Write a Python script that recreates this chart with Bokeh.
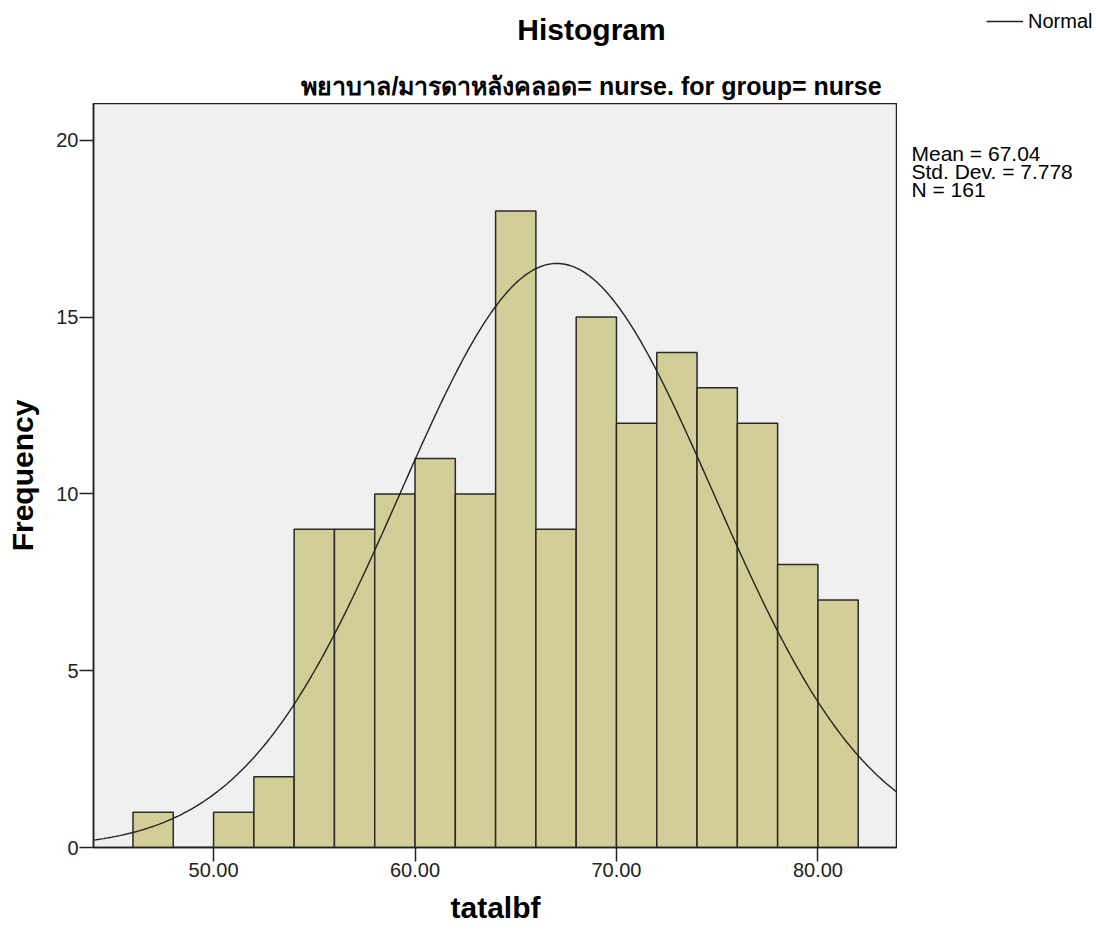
import numpy as np
from bokeh.plotting import figure
from bokeh.layouts import column, row
from bokeh.models import Label, Legend, LegendItem, FixedTicker, NumeralTickFormatter, ColumnDataSource, Range1d
from bokeh.embed import file_html
from bokeh.resources import INLINE

# ---- data ----
bin_left = [46, 48, 50, 52, 54, 56, 58, 60, 62, 64, 66, 68, 70, 72, 74, 76, 78, 80]
bin_width = 2
counts = [1, 0, 1, 2, 9, 9, 10, 11, 10, 18, 9, 15, 12, 14, 13, 12, 8, 7]
mean_val = 67.04
std_val = 7.778
n_val = 161
x_ticks = [50, 60, 70, 80]
y_ticks = [0, 5, 10, 15, 20]
title_text = "Histogram"
subtitle_text = "พยาบาล/มารดาหลังคลอด= nurse. for group= nurse"
x_label = "tatalbf"
y_label = "Frequency"
legend_label = "Normal"

FONT = "Liberation Sans"
X0, X1 = 44.04, 83.95
Y0, Y1 = 0, 21.04

TOTAL_W = 1096
HEAD_H = 103          # space above the plot frame
FL, FW, FH = 93, 804, 744
BOTTOM = 86
MAIN_H = FH + BOTTOM
SIDE_W = TOTAL_W - FL - FW
LINE_COLOR = "#222222"

# ---------------- main plot ----------------
p = figure(frame_width=FW, frame_height=FH, title=None,
           x_range=(X0, X1), y_range=(Y0, Y1),
           min_border_left=FL, min_border_top=0, min_border_right=0, min_border_bottom=BOTTOM,
           output_backend="svg", toolbar_location=None,
           background_fill_color="#f0f0f0", border_fill_color="white")
p.outline_line_color = LINE_COLOR
p.outline_line_width = 1.5
p.grid.visible = False

src = ColumnDataSource(dict(left=bin_left,
                            right=[b + bin_width for b in bin_left],
                            top=counts))
p.quad(left="left", right="right", bottom=0, top="top", source=src,
       fill_color="#d3ce97", line_color="#2a2a2a", line_width=1.5)

# Normal curve from the stated mean/sd/N
xs = np.linspace(X0, X1, 400)
ys = n_val * bin_width * np.exp(-0.5 * ((xs - mean_val) / std_val) ** 2) / (std_val * np.sqrt(2 * np.pi))
p.line(xs, ys, line_color=LINE_COLOR, line_width=1.4)

for ax in (p.xaxis[0], p.yaxis[0]):
    ax.axis_line_color = LINE_COLOR
    ax.axis_line_width = 1.5
    ax.major_tick_line_color = LINE_COLOR
    ax.major_tick_line_width = 1.5
    ax.major_tick_in = 0
    ax.major_tick_out = 14
    ax.minor_tick_line_color = None
    ax.major_label_text_font = FONT
    ax.major_label_text_font_size = "20px"
    ax.major_label_text_color = LINE_COLOR
    ax.axis_label_text_font = FONT
    ax.axis_label_text_font_size = "30px"
    ax.axis_label_text_font_style = "bold"
    ax.axis_label_text_color = "black"

p.xaxis.ticker = FixedTicker(ticks=x_ticks)
p.xaxis.formatter = NumeralTickFormatter(format="0.00")
p.yaxis.ticker = FixedTicker(ticks=y_ticks)
p.xaxis.axis_label = x_label
p.yaxis.axis_label = y_label
p.xaxis.major_label_standoff = 1
p.xaxis.axis_label_standoff = 11
p.yaxis.major_label_standoff = 1
p.yaxis.axis_label_standoff = 14


def blank_fig(w, h, xr, yr):
    f = figure(width=w, height=h, x_range=xr, y_range=yr, title=None,
               x_axis_location=None, y_axis_location=None,
               min_border=0, output_backend="svg", toolbar_location=None,
               background_fill_color="white", border_fill_color="white")
    f.outline_line_color = None
    f.grid.visible = False
    return f


# ---------------- header (titles + legend), page-pixel coordinates ----------------
head = blank_fig(TOTAL_W, HEAD_H, Range1d(0, TOTAL_W), Range1d(HEAD_H, 0))
head.add_layout(Label(x=591, y=29, text=title_text, text_align="center", text_baseline="middle",
                      text_font=FONT, text_font_size="30px", text_font_style="bold", text_color="black"))
head.add_layout(Label(x=591, y=85, text=subtitle_text, text_align="center", text_baseline="middle",
                      text_font=FONT, text_font_size="25px", text_font_style="bold", text_color="black"))
# legend key: a line renderer with no drawable points, styled like the curve
key = head.line(x=[np.nan], y=[np.nan], line_color=LINE_COLOR, line_width=1.5)
leg = Legend(items=[LegendItem(label=legend_label, renderers=[key])],
             location=(986, HEAD_H - 21 - 13), orientation="vertical",
             background_fill_alpha=0, border_line_alpha=0,
             padding=0, margin=0, spacing=0,
             glyph_width=37, glyph_height=26, label_height=26, label_standoff=5,
             label_text_font=FONT, label_text_font_size="20px", label_text_color="black")
head.add_layout(leg, "center")

# ---------------- side panel (statistics), page-pixel coordinates ----------------
side = blank_fig(SIDE_W, MAIN_H, Range1d(FL + FW, TOTAL_W), Range1d(HEAD_H + MAIN_H, HEAD_H))
stats = [f"Mean = {mean_val:.2f}", f"Std. Dev. = {std_val:.3f}", f"N = {n_val}"]
for i, s in enumerate(stats):
    side.add_layout(Label(x=911, y=159 + 20 * i, text=s, text_align="left", text_baseline="middle",
                          text_font=FONT, text_font_size="21px", text_color="black"))

layout = column(head, row(p, side, spacing=0), spacing=0)
open("out.html", "w").write(file_html(layout, INLINE))
